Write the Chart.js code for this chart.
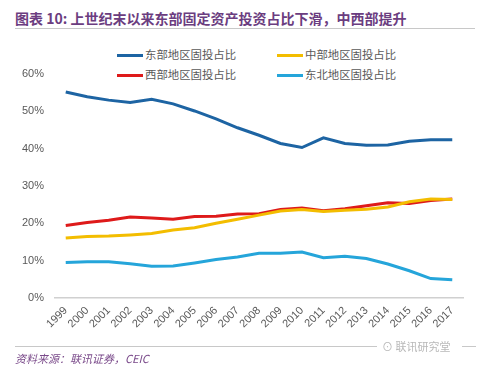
<!DOCTYPE html>
<html>
<head>
<meta charset="utf-8">
<script src="https://cdn.jsdelivr.net/npm/chart.js@4.4.0/dist/chart.umd.min.js"></script>
<style>
  body { margin: 0; background: #fff; width: 479px; height: 375px; position: relative; overflow: hidden;
         font-family: "Noto Sans CJK SC", "Liberation Sans", sans-serif; }
  #title { position: absolute; left: 15px; top: 8px; font-size: 14px; font-weight: bold; color: #6b3d80; white-space: nowrap; }
  #rule1 { position: absolute; left: 15px; right: 4px; top: 28px; border-top: 1px solid #c8c8c8; }
  #rule2 { position: absolute; left: 15px; width: 362px; top: 346px; border-top: 1px solid #c8c8c8; }
  #rule3 { position: absolute; left: 462px; width: 14px; top: 346px; border-top: 1px solid #c8c8c8; }
  #source { position: absolute; left: 15px; top: 350px; font-size: 11px; font-style: italic; color: #7a4a8a; }
  #mark { position: absolute; left: 382px; top: 338px; font-size: 11px; color: #b8b8b8; }
  #legend { position: absolute; left: 0; top: 45px; }
  .item { position: absolute; height: 18px; line-height: 18px; font-size: 11.4px; color: #595959; white-space: nowrap; }
  .item span.ln { display: inline-block; width: 26px; height: 3px; vertical-align: middle; margin-right: 2px; }
  canvas { position: absolute; left: 0; top: 40px; }
</style>
</head>
<body>
<div id="title">图表 10: 上世纪末以来东部固定资产投资占比下滑，中西部提升</div>
<div id="rule1"></div>
<div id="legend"></div>
<canvas id="myChart" width="479" height="300"></canvas>
<div id="rule2"></div>
<div id="rule3"></div>
<div id="mark">⊙ 联讯研究堂</div>
<div id="source">资料来源：联讯证券，CEIC</div>
<script>
  // 年份
  const years = ['1999', '2000', '2001', '2002', '2003', '2004', '2005', '2006', '2007', '2008',
    '2009', '2010', '2011', '2012', '2013', '2014', '2015', '2016', '2017'];

  // 各地区固投占比 (%)
  const east = [55.2, 53.9, 53.0, 52.4, 53.2, 52.0, 50.1, 48.0, 45.6, 43.6,
    41.4, 40.3, 42.9, 41.4, 40.9, 41.0, 42.0, 42.4, 42.4];
  const central = [16.1, 16.5, 16.6, 16.9, 17.3, 18.2, 18.8, 20.0, 21.1, 22.2,
    23.3, 23.7, 23.2, 23.5, 23.8, 24.4, 25.8, 26.5, 26.4];
  const west = [19.4, 20.2, 20.8, 21.7, 21.4, 21.1, 21.8, 21.9, 22.5, 22.6,
    23.7, 24.1, 23.4, 23.9, 24.7, 25.5, 25.3, 26.1, 26.5];
  const northeast = [9.5, 9.7, 9.7, 9.2, 8.5, 8.6, 9.4, 10.3, 11.0, 12.0,
    12.0, 12.3, 10.8, 11.2, 10.6, 9.1, 7.3, 5.2, 4.9];

  const yTicks = [0, 10, 20, 30, 40, 50, 60];

  const series = [
    {label: '东部地区固投占比', data: east, color: '#1d64a3'},
    {label: '中部地区固投占比', data: central, color: '#f3bd00'},
    {label: '西部地区固投占比', data: west, color: '#de1a1a'},
    {label: '东北地区固投占比', data: northeast, color: '#25a5da'},
  ];

  // 图例 (两列)
  const legendPos = [[117, 0], [277, 0], [117, 20], [277, 20]];
  const legend = document.getElementById('legend');
  // 东部, 中部 / 西部, 东北
  series.forEach((s, i) => {
    const el = document.createElement('div');
    el.className = 'item';
    const p = legendPos[[0, 1, 2, 3][i]];
    el.style.left = p[0] + 'px';
    el.style.top = p[1] + 'px';
    el.innerHTML = '<span class="ln" style="background:' + s.color + '"></span>' + s.label;
    legend.appendChild(el);
  });

  const ctx = document.getElementById('myChart').getContext('2d');
  const chart = new Chart(ctx, {
    type: 'line',
    data: {
      labels: years,
      datasets: series.map(s => ({
        label: s.label,
        data: s.data,
        borderColor: s.color,
        backgroundColor: s.color,
        borderWidth: 3,
        pointRadius: 0,
        tension: 0,
        fill: false,
      })),
    },
    options: {
      responsive: false,
      animation: false,
      layout: {padding: {top: 34, right: 16, left: 0, bottom: 0}},
      plugins: {
        legend: {display: false},
        tooltip: {enabled: false},
      },
      scales: {
        x: {
          offset: true,
          grid: {display: false, drawTicks: false},
          border: {display: true, color: '#d0d0d0', width: 1.5},
          ticks: {
            color: '#595959',
            font: {family: 'Liberation Sans', size: 11},
            minRotation: 45,
            maxRotation: 45,
            padding: 6,
            autoSkip: false,
          },
          afterFit: (scale) => { scale.height = 42; },
        },
        y: {
          min: 0,
          max: 60,
          grid: {display: false, drawTicks: false},
          border: {display: false},
          afterBuildTicks: (scale) => { scale.ticks = yTicks.map(v => ({value: v})); },
          ticks: {
            color: '#595959',
            font: {family: 'Liberation Sans', size: 11},
            padding: 11,
            callback: (v) => v + '%',
          },
          afterFit: (scale) => { scale.width = 55; },
        },
      },
    },
  });
</script>
</body>
</html>
